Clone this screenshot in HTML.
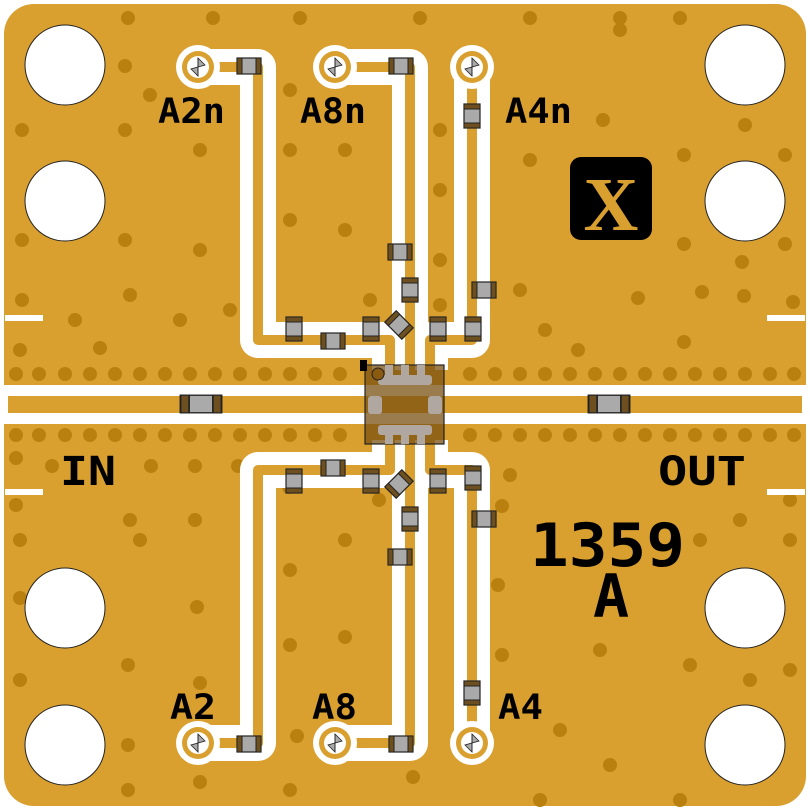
<!DOCTYPE html>
<html><head><meta charset="utf-8"><style>
html,body{margin:0;padding:0;background:#fff;}
svg{display:block}
text{font-family:"DejaVu Sans Mono","Liberation Mono",monospace;font-weight:bold;fill:#000}
</style></head><body>
<svg width="810" height="810" viewBox="0 0 810 810" xmlns="http://www.w3.org/2000/svg">
<defs>
<g id="via"><circle r="22" fill="#fff"/><circle r="16" fill="#d9a030"/><circle r="11" fill="#fff"/>
<path d="M0,-9 L7,-2 L-7,2 L0,9 Z" fill="#aaa" stroke="#222" stroke-width="0.8"/><line x1="0" y1="-9" x2="0" y2="9" stroke="#222" stroke-width="0.8"/></g>
<g id="capH"><rect x="-12" y="-8" width="24" height="16" fill="#aaa" stroke="#222" stroke-width="1.2"/><rect x="-12" y="-8" width="5" height="16" fill="#6e5020" stroke="#222" stroke-width="1"/><rect x="7" y="-8" width="5" height="16" fill="#6e5020" stroke="#222" stroke-width="1"/></g>
<g id="capV"><rect x="-8" y="-12" width="16" height="24" fill="#aaa" stroke="#222" stroke-width="1.2"/><rect x="-8" y="-12" width="16" height="5" fill="#6e5020" stroke="#222" stroke-width="1"/><rect x="-8" y="7" width="16" height="5" fill="#6e5020" stroke="#222" stroke-width="1"/></g>
</defs>
<rect x="0" y="0" width="810" height="810" fill="#fff"/>
<rect x="4" y="4" width="802" height="802" rx="30" fill="#d9a030"/>
<g>
<g fill="#b98010">
<circle cx="16" cy="374" r="7"/><circle cx="39" cy="374" r="7"/><circle cx="65" cy="374" r="7"/><circle cx="90" cy="374" r="7"/><circle cx="115" cy="374" r="7"/><circle cx="140" cy="374" r="7"/><circle cx="165" cy="374" r="7"/><circle cx="190" cy="374" r="7"/><circle cx="215" cy="374" r="7"/><circle cx="240" cy="374" r="7"/><circle cx="265" cy="374" r="7"/><circle cx="290" cy="374" r="7"/><circle cx="315" cy="374" r="7"/><circle cx="340" cy="374" r="7"/>
<circle cx="16" cy="435" r="7"/><circle cx="39" cy="435" r="7"/><circle cx="65" cy="435" r="7"/><circle cx="90" cy="435" r="7"/><circle cx="115" cy="435" r="7"/><circle cx="140" cy="435" r="7"/><circle cx="165" cy="435" r="7"/><circle cx="190" cy="435" r="7"/><circle cx="215" cy="435" r="7"/><circle cx="240" cy="435" r="7"/><circle cx="265" cy="435" r="7"/><circle cx="290" cy="435" r="7"/><circle cx="315" cy="435" r="7"/><circle cx="340" cy="435" r="7"/>
<circle cx="470" cy="374" r="7"/><circle cx="495" cy="374" r="7"/><circle cx="520" cy="374" r="7"/><circle cx="545" cy="374" r="7"/><circle cx="570" cy="374" r="7"/><circle cx="595" cy="374" r="7"/><circle cx="620" cy="374" r="7"/><circle cx="645" cy="374" r="7"/><circle cx="670" cy="374" r="7"/><circle cx="695" cy="374" r="7"/><circle cx="720" cy="374" r="7"/><circle cx="745" cy="374" r="7"/><circle cx="770" cy="374" r="7"/><circle cx="794" cy="374" r="7"/>
<circle cx="470" cy="435" r="7"/><circle cx="495" cy="435" r="7"/><circle cx="520" cy="435" r="7"/><circle cx="545" cy="435" r="7"/><circle cx="570" cy="435" r="7"/><circle cx="595" cy="435" r="7"/><circle cx="620" cy="435" r="7"/><circle cx="645" cy="435" r="7"/><circle cx="670" cy="435" r="7"/><circle cx="695" cy="435" r="7"/><circle cx="720" cy="435" r="7"/><circle cx="745" cy="435" r="7"/><circle cx="770" cy="435" r="7"/><circle cx="794" cy="435" r="7"/>
<circle cx="128" cy="18" r="7"/><circle cx="213" cy="18" r="7"/><circle cx="300" cy="18" r="7"/><circle cx="420" cy="18" r="7"/><circle cx="530" cy="18" r="7"/><circle cx="620" cy="18" r="7"/><circle cx="680" cy="18" r="7"/>
<circle cx="125" cy="66" r="7"/><circle cx="290" cy="90" r="7"/><circle cx="290" cy="150" r="7"/><circle cx="150" cy="95" r="7"/><circle cx="22" cy="130" r="7"/><circle cx="125" cy="130" r="7"/><circle cx="200" cy="150" r="7"/><circle cx="290" cy="220" r="7"/><circle cx="22" cy="240" r="7"/><circle cx="125" cy="240" r="7"/><circle cx="200" cy="250" r="7"/><circle cx="130" cy="295" r="7"/><circle cx="22" cy="300" r="7"/><circle cx="75" cy="320" r="7"/><circle cx="180" cy="320" r="7"/><circle cx="230" cy="310" r="7"/><circle cx="20" cy="350" r="7"/><circle cx="100" cy="348" r="7"/><circle cx="345" cy="150" r="7"/><circle cx="345" cy="230" r="7"/><circle cx="370" cy="300" r="7"/><circle cx="440" cy="130" r="7"/><circle cx="440" cy="190" r="7"/><circle cx="440" cy="260" r="7"/><circle cx="440" cy="305" r="7"/><circle cx="530" cy="160" r="7"/><circle cx="520" cy="290" r="7"/><circle cx="545" cy="330" r="7"/><circle cx="578" cy="350" r="7"/><circle cx="638" cy="298" r="7"/><circle cx="702" cy="292" r="7"/><circle cx="742" cy="262" r="7"/><circle cx="744" cy="296" r="7"/><circle cx="793" cy="302" r="7"/><circle cx="684" cy="342" r="7"/><circle cx="603" cy="120" r="7"/><circle cx="684" cy="155" r="7"/><circle cx="684" cy="244" r="7"/><circle cx="785" cy="155" r="7"/><circle cx="785" cy="244" r="7"/><circle cx="745" cy="125" r="7"/><circle cx="620" cy="30" r="7"/>
<circle cx="16" cy="458" r="7"/><circle cx="16" cy="505" r="7"/><circle cx="52" cy="466" r="7"/><circle cx="151" cy="466" r="7"/><circle cx="195" cy="466" r="7"/><circle cx="238" cy="466" r="7"/><circle cx="20" cy="540" r="7"/><circle cx="130" cy="520" r="7"/><circle cx="195" cy="520" r="7"/><circle cx="20" cy="598" r="7"/><circle cx="140" cy="540" r="7"/><circle cx="197" cy="607" r="7"/><circle cx="128" cy="665" r="7"/><circle cx="200" cy="683" r="7"/><circle cx="128" cy="745" r="7"/><circle cx="200" cy="782" r="7"/><circle cx="128" cy="790" r="7"/><circle cx="20" cy="680" r="7"/><circle cx="290" cy="570" r="7"/><circle cx="290" cy="645" r="7"/><circle cx="297" cy="736" r="7"/><circle cx="290" cy="790" r="7"/><circle cx="345" cy="540" r="7"/><circle cx="345" cy="637" r="7"/><circle cx="289" cy="487" r="7"/><circle cx="373" cy="487" r="7"/><circle cx="413" cy="777" r="7"/><circle cx="379" cy="500" r="7"/>
<circle cx="510" cy="475" r="7"/><circle cx="502" cy="506" r="7"/><circle cx="498" cy="585" r="7"/><circle cx="502" cy="655" r="7"/><circle cx="540" cy="800" r="7"/><circle cx="600" cy="650" r="7"/><circle cx="610" cy="765" r="7"/><circle cx="690" cy="665" r="7"/><circle cx="700" cy="540" r="7"/><circle cx="740" cy="520" r="7"/><circle cx="790" cy="500" r="7"/><circle cx="790" cy="540" r="7"/><circle cx="790" cy="670" r="7"/><circle cx="680" cy="800" r="7"/><circle cx="750" cy="680" r="7"/><circle cx="560" cy="730" r="7"/>
</g>
<rect x="5" y="315" width="38" height="6" fill="#fff"/><rect x="5" y="489" width="38" height="6" fill="#fff"/>
<rect x="767" y="315" width="38" height="6" fill="#fff"/><rect x="767" y="489" width="38" height="6" fill="#fff"/>
<g fill="none" stroke="#fff" stroke-width="36" stroke-linejoin="round">
<path d="M198,67 H258 V340 H390 V370"/>
<path d="M335,67 H410 V370"/>
<path d="M472,67 V340 H430 V370"/>
<path d="M198,743 H258 V470 H390 V440"/>
<path d="M335,743 H410 V440"/>
<path d="M472,743 V470 H430 V440"/>
</g>
<rect x="4" y="385" width="802" height="39" fill="#fff"/>
<rect x="8" y="396" width="794" height="17" fill="#d9a030"/>
<g fill="none" stroke="#d9a030" stroke-width="10" stroke-linejoin="round">
<path d="M198,67 H258 V340 H390 V370"/>
<path d="M335,67 H410 V370"/>
<path d="M472,67 V340 H430 V370"/>
<path d="M198,743 H258 V470 H390 V440"/>
<path d="M335,743 H410 V440"/>
<path d="M472,743 V470 H430 V440"/>
</g>
<use href="#via" x="198" y="67"/><use href="#via" x="335" y="67"/><use href="#via" x="472" y="67"/>
<use href="#via" x="198" y="743"/><use href="#via" x="335" y="743"/><use href="#via" x="472" y="743"/>
<g fill="#fff" stroke="#222" stroke-width="1"><circle cx="65" cy="65" r="40"/><circle cx="65" cy="201" r="40"/><circle cx="65" cy="608" r="40"/><circle cx="65" cy="745" r="40"/><circle cx="745" cy="65" r="40"/><circle cx="745" cy="201" r="40"/><circle cx="745" cy="608" r="40"/><circle cx="745" cy="745" r="40"/></g>
<use href="#capH" x="249" y="66"/><use href="#capH" x="401" y="66"/><use href="#capV" x="472" y="116"/>
<use href="#capH" x="400" y="252"/><use href="#capV" x="410" y="290"/><use href="#capH" x="484" y="290"/>
<use href="#capV" x="294" y="329"/><use href="#capH" x="333" y="341"/><use href="#capV" x="371" y="329"/><use href="#capV" x="438" y="329"/><use href="#capV" x="473" y="329"/>
<use href="#capV" x="399" y="325" transform="rotate(-45 399 325)"/>
<use href="#capV" x="294" y="481"/><use href="#capH" x="333" y="468"/><use href="#capV" x="371" y="481"/><use href="#capV" x="438" y="481"/><use href="#capV" x="473" y="478"/>
<use href="#capV" x="399" y="484" transform="rotate(45 399 484)"/>
<use href="#capV" x="410" y="519"/><use href="#capH" x="484" y="519"/><use href="#capH" x="400" y="557"/>
<use href="#capV" x="472" y="693"/><use href="#capH" x="249" y="744"/><use href="#capH" x="401" y="744"/>
<g transform="translate(201,404) scale(1.7,1.1)"><use href="#capH"/></g>
<g transform="translate(609,404) scale(1.7,1.1)"><use href="#capH"/></g>
<g>
<rect x="365" y="365" width="79" height="79" fill="#7a5010" fill-opacity="0.75" stroke="#222" stroke-width="1.2"/>
<g fill="#b0a8a0">
<rect x="378" y="375" width="54" height="10" rx="3"/><rect x="385" y="365" width="8" height="16"/><rect x="401" y="365" width="8" height="16"/><rect x="417" y="365" width="8" height="16"/>
<rect x="378" y="425" width="54" height="10" rx="3"/><rect x="385" y="430" width="8" height="14"/><rect x="401" y="430" width="8" height="14"/><rect x="417" y="430" width="8" height="14"/>
<rect x="368" y="396" width="14" height="18" rx="3"/><rect x="428" y="396" width="14" height="18" rx="3"/>
</g>
<circle cx="378" cy="374" r="6" fill="#8a5a10" stroke="#222" stroke-width="1"/>
<rect x="360" y="360" width="7" height="11" fill="#000"/>
</g>
<rect x="570" y="157" width="82" height="83" rx="11" fill="#000"/>
<text x="611" y="230" text-anchor="middle" style="font-family:'Liberation Serif',serif;font-weight:bold;font-size:76px;fill:#d9a030">X</text>
<g style="font-size:35px;font-family:'Liberation Sans',sans-serif">
<text x="158" y="123" textLength="67" lengthAdjust="spacingAndGlyphs">A2n</text>
<text x="300" y="123" textLength="66" lengthAdjust="spacingAndGlyphs">A8n</text>
<text x="505" y="123" textLength="67" lengthAdjust="spacingAndGlyphs">A4n</text>
<text x="170" y="719" textLength="46" lengthAdjust="spacingAndGlyphs">A2</text>
<text x="312" y="719" textLength="45" lengthAdjust="spacingAndGlyphs">A8</text>
<text x="498" y="719" textLength="45" lengthAdjust="spacingAndGlyphs">A4</text>
</g>
<g style="font-size:40px">
<text x="60" y="485" textLength="56" lengthAdjust="spacingAndGlyphs">IN</text>
<text x="658" y="485" textLength="88" lengthAdjust="spacingAndGlyphs">OUT</text>
</g>
<text x="530" y="566" style="font-size:60px" textLength="155" lengthAdjust="spacingAndGlyphs">1359</text>
<text x="593" y="617" style="font-size:60px">A</text>
</g>
</svg>
</body></html>
